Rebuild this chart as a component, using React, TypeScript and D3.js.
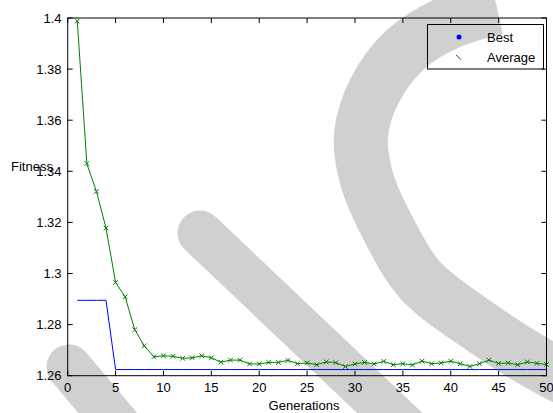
import React from "react";
import * as d3 from "d3";

const generations = [
  1, 2, 3, 4, 5, 6, 7, 8, 9, 10, 11, 12, 13, 14, 15, 16, 17, 18, 19, 20, 21, 22, 23, 24, 25,
  26, 27, 28, 29, 30, 31, 32, 33, 34, 35, 36, 37, 38, 39, 40, 41, 42, 43, 44, 45, 46, 47, 48, 49, 50,
];

const bestFitness = [
  1.2895, 1.2895, 1.2895, 1.2895, 1.2624, 1.2624, 1.2624, 1.2624, 1.2624, 1.2624,
  1.2624, 1.2624, 1.2624, 1.2624, 1.2624, 1.2624, 1.2624, 1.2624, 1.2624, 1.2624,
  1.2624, 1.2624, 1.2624, 1.2624, 1.2624, 1.2624, 1.2624, 1.2624, 1.2624, 1.2624,
  1.2624, 1.2624, 1.2624, 1.2624, 1.2624, 1.2624, 1.2624, 1.2624, 1.2624, 1.2624,
  1.2624, 1.2624, 1.2624, 1.2624, 1.2624, 1.2624, 1.2624, 1.2624, 1.2624, 1.2624,
];

const averageFitness = [
  1.3988, 1.343, 1.3321, 1.3178, 1.2965, 1.2909, 1.278, 1.2717, 1.2674, 1.2678,
  1.2676, 1.2668, 1.267, 1.2678, 1.267, 1.2653, 1.2661, 1.2661, 1.2646, 1.2646,
  1.2652, 1.2652, 1.266, 1.2647, 1.265, 1.2643, 1.2654, 1.2651, 1.2636, 1.2646,
  1.2652, 1.2646, 1.2656, 1.2643, 1.2647, 1.2642, 1.2657, 1.2647, 1.265, 1.2657,
  1.2647, 1.2636, 1.2647, 1.2661, 1.2648, 1.265, 1.2643, 1.2654, 1.2648, 1.2644,
];

const xTicks = [0, 5, 10, 15, 20, 25, 30, 35, 40, 45, 50];
const yTicks = [1.26, 1.28, 1.3, 1.32, 1.34, 1.36, 1.38, 1.4];
const yTickLabels = ["1.26", "1.28", "1.3", "1.32", "1.34", "1.36", "1.38", "1.4"];

const W = 553;
const H = 413;
const plot = { left: 67.7, right: 546.5, top: 18, bottom: 375.7 };
const font = "'Liberation Sans', Arial, Helvetica, sans-serif";

// grey watermark shapes behind the plot
const arcPoints: [number, number][] = [
  [497, 8], [450, 22], [405, 50], [375, 90], [361, 135], [367, 180],
  [390, 232], [420, 280], [485, 330], [553, 372], [610, 398],
];
const bandB: [number, number][] = [[200, 233], [432, 453]];
const bandD: [number, number][] = [[69, 367], [150, 463]];

export default function App() {
  const x = d3.scaleLinear().domain([0, 50]).range([plot.left, plot.right]);
  const y = d3.scaleLinear().domain([1.26, 1.4]).range([plot.bottom, plot.top]);

  const line = d3
    .line<number>()
    .x((_, i) => x(generations[i]))
    .y((d) => y(d));

  const wm = d3.line().curve(d3.curveCatmullRom.alpha(0.5));

  return (
    <svg
      width={W}
      height={H}
      style={{ position: "absolute", left: 0, top: 0, background: "#fff" }}
      fontFamily={font}
      fontSize={13}
    >
      <g fill="none" stroke="#d0d0d0">
        <path d={wm(arcPoints) || ""} strokeWidth={54} />
        <path d={d3.line()(bandB) || ""} strokeWidth={45} strokeLinecap="round" />
        <path d={d3.line()(bandD) || ""} strokeWidth={45} strokeLinecap="round" />
      </g>

      {/* ticks */}
      <g stroke="#000" strokeWidth={1}>
        {xTicks.map((t) => (
          <g key={"x" + t}>
            <line x1={x(t)} x2={x(t)} y1={plot.bottom} y2={plot.bottom - 5} />
            <line x1={x(t)} x2={x(t)} y1={plot.top} y2={plot.top + 5} />
          </g>
        ))}
        {yTicks.map((t) => (
          <g key={"y" + t}>
            <line x1={plot.left} x2={plot.left + 5} y1={y(t)} y2={y(t)} />
            <line x1={plot.right} x2={plot.right - 5} y1={y(t)} y2={y(t)} />
          </g>
        ))}
      </g>

      <path d={line(bestFitness) || ""} fill="none" stroke="#0000ff" strokeWidth={1} />
      <path d={line(averageFitness) || ""} fill="none" stroke="#008000" strokeWidth={1} />
      <g stroke="#008000" strokeWidth={1}>
        {averageFitness.map((v, i) => {
          const cx = x(generations[i]);
          const cy = y(v);
          const s = 2.3;
          return (
            <path key={i} d={`M${cx - s},${cy - s}L${cx + s},${cy + s}M${cx - s},${cy + s}L${cx + s},${cy - s}`} />
          );
        })}
      </g>

      <rect
        x={plot.left}
        y={plot.top}
        width={plot.right - plot.left}
        height={plot.bottom - plot.top}
        fill="none"
        stroke="#000"
        strokeWidth={1}
      />

      {xTicks.map((t) => (
        <text key={"xl" + t} x={x(t)} y={392} textAnchor="middle" fill="#000">
          {t}
        </text>
      ))}
      {yTicks.map((t, i) => (
        <text key={"yl" + t} x={61.5} y={y(t) + 4.5} textAnchor="end" fill="#000">
          {yTickLabels[i]}
        </text>
      ))}

      <text x={304} y={410} textAnchor="middle" fill="#000">Generations</text>
      <text x={11} y={171} fill="#000">Fitness</text>

      {/* legend */}
      <rect x={427.5} y={24.5} width={116} height={44.5} fill="none" stroke="#000" strokeWidth={1} />
      <circle cx={459} cy={37} r={2.5} fill="#0000ff" />
      <text x={487} y={41.5} fill="#000">Best</text>
      <line x1={456} y1={55} x2={461} y2={59.5} stroke="#008000" strokeWidth={1} />
      <text x={487} y={62} fill="#000">Average</text>
    </svg>
  );
}
